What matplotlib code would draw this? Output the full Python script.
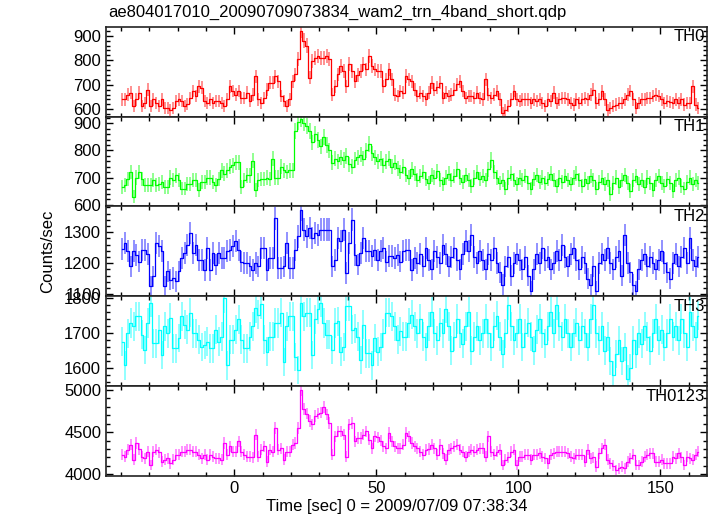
import numpy as np
import matplotlib
matplotlib.use("Agg")
import matplotlib.pyplot as plt
from matplotlib.ticker import MultipleLocator

plt.rcParams['font.family'] = ['Liberation Sans', 'DejaVu Sans']

TITLE = "ae804017010_20090709073834_wam2_trn_4band_short.qdp"
XLABEL = "Time [sec] 0 = 2009/07/09 07:38:34"
YLABEL = "Counts/sec"
T_START = -40.0
BIN = 1.0

th0 = [640, 640, 660, 667, 612, 640, 667, 612, 626, 680,
       612, 640, 626, 612, 640, 605, 605, 598, 605, 633,
       640, 633, 612, 620, 646, 674, 653, 694, 688, 633,
       626, 640, 626, 633, 633, 626, 612, 640, 694, 674,
       660, 674, 646, 646, 667, 633, 660, 735, 640, 626,
       646, 680, 708, 708, 735, 715, 653, 633, 612, 640,
       715, 742, 805, 921, 880, 860, 729, 798, 811, 818,
       811, 811, 818, 805, 660, 694, 742, 777, 756, 694,
       784, 756, 715, 740, 756, 784, 763, 818, 777, 763,
       756, 756, 694, 722, 763, 722, 660, 653, 674, 667,
       736, 722, 715, 680, 653, 667, 653, 640, 667, 708,
       680, 690, 708, 646, 667, 653, 660, 680, 701, 715,
       674, 646, 653, 653, 646, 667, 646, 640, 722, 660,
       646, 660, 674, 640, 584, 598, 612, 640, 674, 640,
       633, 640, 640, 640, 626, 640, 633, 640, 625, 612,
       640, 633, 667, 626, 640, 646, 646, 640, 626, 619,
       640, 626, 640, 646, 640, 660, 680, 626, 640, 674,
       640, 598, 605, 612, 619, 626, 626, 640, 660, 674,
       640, 605, 626, 640, 640, 646, 646, 653, 660, 653,
       640, 626, 633, 630, 626, 640, 626, 640, 619, 626,
       626, 694, 619, 605]

th1 = [666, 672, 696, 720, 630, 700, 720, 696, 672, 672,
       672, 690, 672, 678, 684, 666, 666, 700, 690, 708,
       690, 660, 660, 678, 678, 690, 690, 654, 684, 684,
       700, 700, 684, 672, 696, 727, 715, 727, 740, 745,
       757, 757, 666, 690, 708, 708, 763, 654, 690, 696,
       696, 700, 696, 770, 700, 700, 740, 727, 720, 727,
       727, 870, 905, 915, 900, 890, 870, 830, 860, 840,
       815, 850, 820, 800, 755, 770, 760, 775, 765, 780,
       750, 740, 765, 775, 785, 770, 800, 825, 790, 775,
       760, 770, 745, 760, 770, 740, 755, 735, 720, 740,
       710, 700, 730, 715, 690, 705, 720, 695, 680, 710,
       700, 725, 690, 675, 700, 715, 690, 705, 730, 700,
       685, 710, 690, 670, 700, 720, 695, 705, 690, 730,
       765, 720, 700, 680, 690, 660, 700, 715, 690, 675,
       700, 690, 705, 680, 660, 695, 710, 685, 700, 680,
       695, 715, 690, 670, 700, 685, 705, 690, 675, 700,
       715, 690, 670, 695, 680, 705, 690, 660, 685, 700,
       675, 690, 640, 680, 700, 665, 690, 710, 680, 650,
       690, 705, 675, 690, 665, 700, 680, 655, 690, 705,
       680, 670, 695, 680, 650, 690, 700, 670, 660, 685,
       700, 675, 690, 680]

th2 = [1245, 1265, 1238, 1190, 1238, 1227, 1205, 1243, 1243, 1230,
       1125, 1157, 1265, 1254, 1240, 1125, 1173, 1146, 1152, 1141,
       1173, 1216, 1232, 1260, 1297, 1232, 1260, 1210, 1210, 1178,
       1248, 1178, 1232, 1195, 1232, 1216, 1216, 1238, 1243, 1254,
       1270, 1243, 1205, 1200, 1200, 1190, 1178, 1200, 1190, 1248,
       1248, 1178, 1216, 1216, 1345, 1184, 1184, 1190, 1265, 1184,
       1184, 1243, 1286, 1372, 1308, 1286, 1313, 1280, 1297, 1291,
       1308, 1308, 1308, 1308, 1190, 1210, 1280, 1270, 1308, 1168,
       1265, 1340, 1227, 1195, 1232, 1280, 1238, 1238, 1222, 1243,
       1210, 1238, 1248, 1205, 1222, 1222, 1216, 1227, 1205, 1238,
       1243, 1243, 1178, 1216, 1200, 1230, 1190, 1250, 1210, 1180,
       1240, 1220, 1200, 1260, 1230, 1190, 1220, 1250, 1210, 1180,
       1230, 1270, 1240, 1290, 1220, 1200, 1240, 1210, 1180, 1230,
       1210, 1250, 1200, 1170, 1130, 1190, 1220, 1160, 1200, 1230,
       1210, 1180, 1220, 1160, 1110, 1180, 1230, 1200, 1250, 1210,
       1220, 1180, 1200, 1240, 1210, 1260, 1220, 1190, 1230, 1250,
       1210, 1180, 1220, 1200, 1150, 1130, 1190, 1110, 1200, 1230,
       1210, 1250, 1200, 1180, 1220, 1240, 1160, 1290, 1200, 1170,
       1130, 1110, 1180, 1210, 1230, 1190, 1220, 1200, 1180, 1210,
       1240, 1200, 1170, 1150, 1200, 1230, 1190, 1220, 1250, 1200,
       1280, 1210, 1190, 1220]

th3 = [1676, 1608, 1700, 1729, 1719, 1748, 1748, 1695, 1652, 1729,
       1787, 1671, 1671, 1710, 1637, 1719, 1700, 1743, 1657, 1657,
       1686, 1748, 1724, 1710, 1758, 1700, 1700, 1681, 1661, 1666,
       1676, 1657, 1657, 1710, 1676, 1690, 1800, 1608, 1681, 1681,
       1710, 1739, 1681, 1657, 1657, 1690, 1719, 1772, 1753, 1782,
       1681, 1647, 1690, 1690, 1729, 1729, 1758, 1618, 1719, 1748,
       1748, 1632, 1594, 1787, 1748, 1758, 1758, 1637, 1739, 1768,
       1787, 1729, 1695, 1695, 1652, 1729, 1734, 1647, 1661, 1777,
       1777, 1710, 1714, 1690, 1623, 1724, 1642, 1642, 1608, 1686,
       1647, 1661, 1700, 1758, 1758, 1748, 1719, 1681, 1705, 1690,
       1690, 1729, 1753, 1719, 1700, 1740, 1690, 1660, 1720, 1760,
       1700, 1680, 1730, 1700, 1770, 1720, 1650, 1690, 1740, 1700,
       1670, 1720, 1760, 1650, 1690, 1720, 1680, 1700, 1740, 1700,
       1660, 1720, 1750, 1690, 1640, 1700, 1780, 1720, 1680, 1700,
       1740, 1660, 1700, 1730, 1690, 1650, 1710, 1740, 1700, 1670,
       1720, 1760, 1700, 1780, 1720, 1690, 1740, 1700, 1660, 1700,
       1730, 1680, 1720, 1700, 1660, 1740, 1780, 1700, 1680, 1720,
       1650, 1690, 1620, 1580, 1640, 1680, 1620, 1660, 1570, 1600,
       1680, 1640, 1700, 1670, 1720, 1690, 1650, 1700, 1740, 1680,
       1710, 1660, 1700, 1740, 1690, 1720, 1680, 1740, 1700, 1660,
       1760, 1720, 1690, 1750]

th0123 = [4230, 4210, 4290, 4350, 4170, 4370, 4300, 4210, 4190, 4270,
          4110, 4270, 4290, 4260, 4150, 4170, 4190, 4130, 4170, 4230,
          4230, 4270, 4270, 4290, 4290, 4270, 4270, 4230, 4190, 4230,
          4170, 4230, 4210, 4190, 4190, 4170, 4370, 4230, 4330, 4270,
          4270, 4390, 4270, 4230, 4210, 4210, 4200, 4470, 4210, 4290,
          4330, 4150, 4290, 4270, 4550, 4290, 4310, 4170, 4270, 4270,
          4350, 4370, 4550, 5000, 4770, 4720, 4630, 4590, 4690, 4720,
          4730, 4800, 4710, 4610, 4230, 4450, 4510, 4510, 4470, 4210,
          4590, 4610, 4390, 4430, 4430, 4470, 4510, 4410, 4310, 4450,
          4440, 4400, 4330, 4310, 4490, 4390, 4330, 4310, 4310, 4350,
          4490, 4450, 4370, 4330, 4310, 4270, 4230, 4290, 4300, 4350,
          4310, 4230, 4350, 4250, 4170, 4290, 4310, 4330, 4350, 4290,
          4270, 4210, 4270, 4290, 4270, 4290, 4310, 4310, 4210, 4450,
          4270, 4230, 4270, 4290, 4110, 4170, 4200, 4270, 4290, 4110,
          4210, 4210, 4230, 4230, 4170, 4230, 4230, 4250, 4210, 4190,
          4130, 4230, 4250, 4270, 4270, 4270, 4270, 4250, 4210, 4190,
          4230, 4230, 4230, 4150, 4290, 4190, 4200, 4090, 4250, 4310,
          4350, 4170, 4130, 4100, 4050, 4070, 4090, 4070, 4150, 4190,
          4230, 4110, 4110, 4150, 4210, 4230, 4250, 4250, 4150, 4150,
          4170, 4130, 4130, 4130, 4210, 4190, 4250, 4200, 4110, 4210,
          4190, 4170, 4230, 4270]

series = [th0, th1, th2, th3, th0123]
names = ["TH0", "TH1", "TH2", "TH3", "TH0123"]
colors = ["#ff0000", "#00ff00", "#0000ff", "#00ffff", "#ff00ff"]
ylims = [(570, 937), (594, 925), (1093, 1383), (1549, 1805), (3980, 5044)]
ymajor = [100, 100, 100, 100, 500]
yminor = [20, 20, 20, 20, 100]

W, H = 717, 516
fig = plt.figure(figsize=(W / 100, H / 100), dpi=100)
left, right = 106 / W, 707 / W
top_px, bot_px = 26.7, 476.0
ph = (bot_px - top_px) / 5

for i, (vals, name, col) in enumerate(zip(series, names, colors)):
    y0 = 1 - (top_px + (i + 1) * ph) / H
    ax = fig.add_axes([left, y0, right - left, ph / H])
    v = np.asarray(vals, dtype=float)
    t = T_START + BIN * (np.arange(len(v)) + 0.5)
    err = np.sqrt(v * BIN) / BIN
    ax.errorbar(t, v, yerr=err, fmt='none', ecolor=col, elinewidth=1.1, alpha=0.55, capsize=0)
    ax.plot(t, v, drawstyle='steps-mid', color=col, lw=0.9)
    ax.set_xlim(-45.2, 166.5)
    ax.set_ylim(*ylims[i])
    ax.yaxis.set_major_locator(MultipleLocator(ymajor[i]))
    ax.yaxis.set_minor_locator(MultipleLocator(yminor[i]))
    ax.xaxis.set_major_locator(MultipleLocator(50))
    ax.xaxis.set_minor_locator(MultipleLocator(10))
    ax.tick_params(which='both', direction='in', top=True, right=True, labelsize=12, colors='black')
    ax.tick_params(which='major', length=5, width=1)
    ax.tick_params(which='minor', length=3, width=1)
    for sp in ax.spines.values():
        sp.set_linewidth(1.2)
        sp.set_color('#222222')
    if i < 4:
        ax.tick_params(labelbottom=False)
    ax.text(0.997, 0.97, name, transform=ax.transAxes, ha='right', va='top', fontsize=12)

fig.text(108 / W, 1 - 12 / H, TITLE, ha='left', va='center', fontsize=12)
fig.text(397 / W, 1 - 507 / H, XLABEL, ha='center', va='center', fontsize=12)
fig.text(48 / W, 1 - 251 / H, YLABEL, ha='center', va='center', rotation=90, fontsize=12)

fig.savefig("out.png", dpi=100)
